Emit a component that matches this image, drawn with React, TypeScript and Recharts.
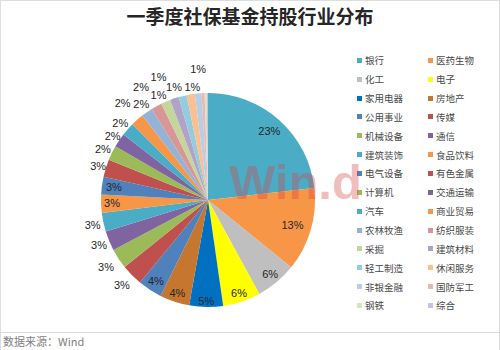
import React from "react";
import { PieChart, Pie, Cell, Legend } from "recharts";

// industries, clockwise from 12 o'clock
const industries = [
  "银行", "医药生物", "化工", "电子", "家用电器", "房地产", "公用事业", "传媒",
  "机械设备", "通信", "建筑装饰", "食品饮料", "电气设备", "有色金属", "计算机", "交通运输",
  "汽车", "商业贸易", "农林牧渔", "纺织服装", "采掘", "建筑材料", "轻工制造", "休闲服务",
  "非银金融", "国防军工", "钢铁", "综合",
];

// share of holdings (%)
const shares = [
  22.8, 12.4, 6.1, 5.6, 5.0, 4.4, 3.6, 3.2,
  3.0, 2.9, 2.8, 2.7, 2.6, 2.6, 2.2, 2.1,
  2.0, 1.9, 1.7, 1.6, 1.4, 1.3, 1.2, 1.2,
  1.0, 0.45, 0.3, 0.2,
];

const colors = [
  "#4bacc6", "#f79646", "#bfbfbf", "#ffff00", "#0070c0", "#c5762f", "#4f81bd", "#c0504d",
  "#9bbb59", "#8064a2", "#4bacc6", "#f79646", "#4f81bd", "#c0504d", "#9bbb59", "#8064a2",
  "#4bacc6", "#f79646", "#95b3d7", "#d99694", "#c3d69b", "#b3a2c7", "#93cddd", "#fac090",
  "#b9cde5", "#e6b9b8", "#d7e4bd", "#ccc1da",
];

// label placement like Excel's best fit: distance from centre (px) and angle nudge (deg, clockwise)
const labelDist = [
  92, 88, 97, 98, 101, 98, 96, 121, 122, 118, 118, 96, 95, 115,
  117, 115, 117, 129, 117, 131, 116, 133, 118, 114, 131,
];
const labelShift = [
  0, 0, 0, 0, 0, 0, 0, 0, 0, 0, 0, 0, 0, 0,
  0, 0, 0, 0, 0, -2, -2, -3.5, -3, 1.5, 1,
];

const data = industries.map((name, i) => ({ name, value: shares[i], color: colors[i] }));

const RADIAN = Math.PI / 180;

const renderLabel = (props: any) => {
  const { cx, cy, midAngle, percent, index } = props;
  const pct = Math.round(percent * 100);
  if (pct < 1) return null;
  const r = labelDist[index] ?? 120;
  const a = (midAngle - (labelShift[index] ?? 0)) * RADIAN;
  const x = cx + r * Math.cos(-a);
  const y = cy + r * Math.sin(-a);
  return (
    <text x={x} y={y} fill="#262626" fontSize={11} textAnchor="middle" dominantBaseline="central"
      fontFamily="'Liberation Sans', Arial, sans-serif">
      {pct}%
    </text>
  );
};

const renderLegend = () => (
  <div style={{ display: "grid", gridTemplateColumns: "71px 71px" }}>
    {data.map((d) => (
      <div key={d.name} style={{ display: "flex", alignItems: "center", height: 18.85, fontSize: 9.5, color: "#4a4a4a" }}>
        <span style={{ width: 5, height: 5, background: d.color, marginRight: 3, display: "inline-block" }} />
        <span>{d.name}</span>
      </div>
    ))}
  </div>
);

export default function App() {
  return (
    <div style={{ position: "absolute", left: 0, top: 0, width: 500, height: 350, background: "#fff",
      fontFamily: "'Noto Sans CJK SC', sans-serif", overflow: "hidden" }}>
      <div style={{ position: "absolute", inset: 0, border: "1px solid #dedede", borderBottom: "none", boxSizing: "border-box" }} />
      <div style={{ position: "absolute", top: 2, left: 0, width: 500, textAlign: "center", fontSize: 19,
        fontWeight: "bold", color: "#262626", lineHeight: "28px" }}>
        一季度社保基金持股行业分布
      </div>
      <PieChart width={500} height={350} style={{ position: "absolute", left: 0, top: 0 }}>
        <Pie
          data={data}
          dataKey="value"
          nameKey="name"
          cx={203}
          cy={195}
          outerRadius={107}
          startAngle={90}
          endAngle={-270}
          stroke="none"
          label={renderLabel}
          labelLine={false}
          isAnimationActive={false}
        >
          {data.map((d) => (
            <Cell key={d.name} fill={d.color} />
          ))}
        </Pie>
        <Legend content={renderLegend} wrapperStyle={{ left: 357, top: 51, width: 142 }} />
      </PieChart>
      <div style={{ position: "absolute", left: 229, top: 152, fontSize: 49, fontWeight: "bold",
        fontFamily: "'Liberation Sans', Arial, sans-serif", color: "rgba(215,70,70,0.35)", pointerEvents: "none",
        lineHeight: "60px" }}>
        Win.d
      </div>
      <div style={{ position: "absolute", left: 0, top: 332, width: 500, height: 1, background: "#d9d9d9" }} />
      <div style={{ position: "absolute", left: 3, top: 334, fontSize: 11, color: "#7f7f7f", lineHeight: "15px" }}>
        数据来源：Wind
      </div>
    </div>
  );
}
